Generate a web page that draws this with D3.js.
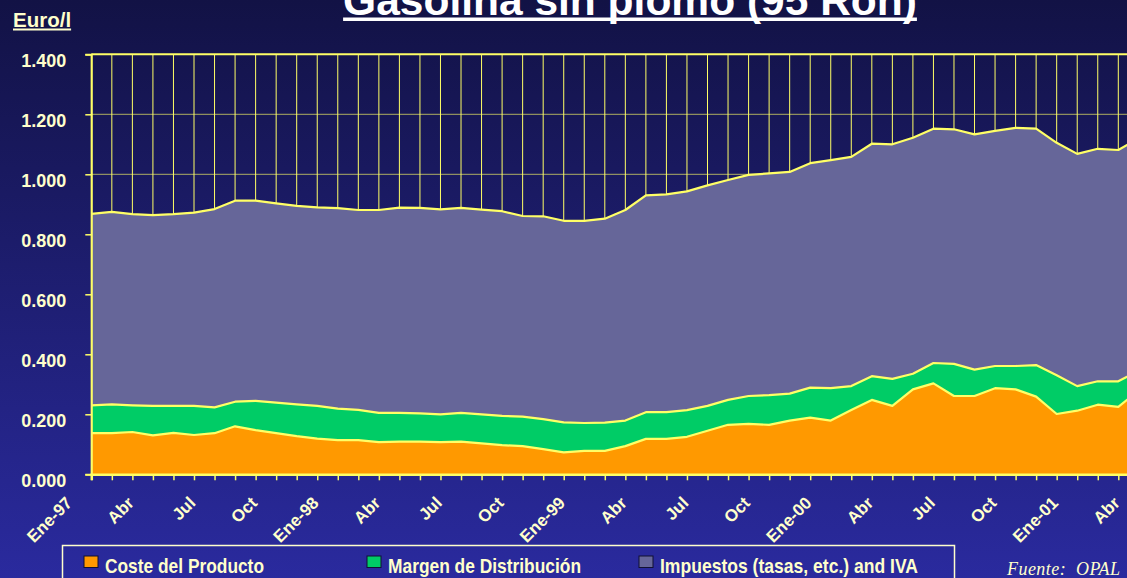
<!DOCTYPE html>
<html>
<head>
<meta charset="utf-8">
<script src="https://cdnjs.cloudflare.com/ajax/libs/d3/7.8.5/d3.min.js"></script>
<style>
  html, body { margin:0; padding:0; background:#1b1b6e; overflow:hidden; }
  svg { display:block; font-family:"Liberation Sans", Arial, sans-serif; }
</style>
</head>
<body>
<svg id="chart" width="1127" height="578"></svg>
<script>
// precios gasolina sin plomo 95, euro/litro, mensual Ene-97 .. Abr-01
var meses = ["Ene-97","Feb-97","Mar-97","Abr-97","May-97","Jun-97","Jul-97","Ago-97","Sep-97","Oct-97","Nov-97","Dic-97",
             "Ene-98","Feb-98","Mar-98","Abr-98","May-98","Jun-98","Jul-98","Ago-98","Sep-98","Oct-98","Nov-98","Dic-98",
             "Ene-99","Feb-99","Mar-99","Abr-99","May-99","Jun-99","Jul-99","Ago-99","Sep-99","Oct-99","Nov-99","Dic-99",
             "Ene-00","Feb-00","Mar-00","Abr-00","May-00","Jun-00","Jul-00","Ago-00","Sep-00","Oct-00","Nov-00","Dic-00",
             "Ene-01","Feb-01","Mar-01","Abr-01"];

var coste = [0.137,0.137,0.141,0.130,0.138,0.131,0.137,0.160,0.147,0.137,0.127,0.119,
             0.114,0.114,0.107,0.109,0.109,0.107,0.109,0.103,0.097,0.094,0.084,0.073,
             0.078,0.078,0.094,0.118,0.118,0.125,0.145,0.165,0.168,0.165,0.179,0.189,
             0.179,0.214,0.248,0.228,0.283,0.303,0.261,0.261,0.287,0.283,0.259,0.201,
             0.212,0.232,0.225,0.280];

var margen = [0.093,0.096,0.089,0.098,0.090,0.097,0.086,0.082,0.098,0.102,0.106,0.109,
              0.105,0.101,0.098,0.096,0.094,0.093,0.096,0.097,0.098,0.098,0.100,0.100,
              0.093,0.094,0.085,0.089,0.089,0.089,0.083,0.083,0.093,0.099,0.090,0.100,
              0.108,0.080,0.079,0.090,0.052,0.068,0.107,0.088,0.074,0.078,0.105,0.129,
              0.082,0.078,0.085,0.065];

var impuestos = [0.638,0.642,0.637,0.636,0.639,0.644,0.661,0.670,0.667,0.664,0.662,0.662,
                 0.668,0.666,0.676,0.684,0.685,0.683,0.683,0.682,0.682,0.669,0.676,0.672,
                 0.674,0.680,0.702,0.723,0.726,0.729,0.735,0.733,0.737,0.739,0.739,0.748,
                 0.760,0.764,0.775,0.782,0.787,0.781,0.782,0.784,0.784,0.794,0.788,0.775,
                 0.774,0.775,0.771,0.775];

var tickLabels = ["Ene-97","Abr","Jul","Oct","Ene-98","Abr","Jul","Oct","Ene-99","Abr","Jul","Oct",
                  "Ene-00","Abr","Jul","Oct","Ene-01","Abr"];
var yTicks = [0, 0.2, 0.4, 0.6, 0.8, 1.0, 1.2, 1.4];

var claves = ["coste", "margen", "impuestos"];
var nombres = ["Coste del Producto", "Margen de Distribución", "Impuestos (tasas, etc.) and IVA"];
var colores = ["#ff9900", "#00cc66", "#666699"];

var W = 1127, H = 578;
var izq = 91.3, abajo = 474.3, arriba = 54.3;
var paso = 20.54;   // px por mes
var amarillo = "#ffff66";
var crema = "#ffffcc";

var svg = d3.select("#chart");

// fondo degradado
var defs = svg.append("defs");
var grad = defs.append("linearGradient").attr("id", "fondo")
  .attr("x1", 0).attr("y1", 0).attr("x2", 0).attr("y2", 1);
grad.append("stop").attr("offset", "0%").attr("stop-color", "#121245");
grad.append("stop").attr("offset", "100%").attr("stop-color", "#2a2a9e");
svg.append("rect").attr("width", W).attr("height", H).attr("fill", "url(#fondo)");

var x = d3.scalePoint().domain(meses).range([izq, izq + paso * (meses.length - 1)]);
var y = d3.scaleLinear().domain([0, 1.4]).range([abajo, arriba]);

var tabla = meses.map(function(m, i) {
  return { mes: m, coste: coste[i], margen: margen[i], impuestos: impuestos[i] };
});
var capas = d3.stack().keys(claves)(tabla);

// rejilla
var grid = svg.append("g").attr("stroke", amarillo).attr("stroke-width", 1);
grid.selectAll("line.v").data(meses).enter().append("line")
  .attr("class", "v")
  .attr("x1", function(d) { return x(d); }).attr("x2", function(d) { return x(d); })
  .attr("y1", y(1.4)).attr("y2", abajo);
grid.selectAll("line.h").data(yTicks.slice(1)).enter().append("line")
  .attr("class", "h")
  .attr("x1", izq).attr("x2", W + 20)
  .attr("y1", function(d) { return y(d); }).attr("y2", function(d) { return y(d); })
  .attr("stroke-opacity", function(d) { return d === 1.4 ? 1 : 0.65; })
  .attr("stroke-width", function(d) { return d === 1.4 ? 2 : 1; });

// areas apiladas
var area = d3.area()
  .x(function(d) { return x(d.data.mes); })
  .y0(function(d) { return y(d[0]); })
  .y1(function(d) { return y(d[1]); });
var linea = d3.line()
  .x(function(d) { return x(d.data.mes); })
  .y(function(d) { return y(d[1]); });

svg.selectAll("path.area").data(capas).enter().append("path")
  .attr("class", "area")
  .attr("d", area)
  .attr("fill", function(d, i) { return colores[i]; });

svg.selectAll("path.borde").data(capas).enter().append("path")
  .attr("class", "borde")
  .attr("d", linea)
  .attr("fill", "none")
  .attr("stroke", amarillo)
  .attr("stroke-width", 2.2)
  .attr("stroke-linejoin", "round");

// ejes
var axY = svg.append("g").attr("transform", "translate(" + izq + ",0)")
  .call(d3.axisLeft(y).tickValues(yTicks).tickSize(6).tickFormat(d3.format(".3f")));
axY.select(".domain").attr("stroke", amarillo).attr("stroke-width", 2);
axY.selectAll(".tick line").attr("stroke", amarillo).attr("stroke-width", 1.5);
axY.selectAll(".tick text")
  .attr("x", -25).attr("dy", 12).attr("y", 0)
  .attr("fill", crema).attr("font-size", 18).attr("font-weight", "bold")
  .attr("font-family", "Liberation Sans, Arial, sans-serif");

var axX = svg.append("g").attr("transform", "translate(0," + abajo + ")")
  .call(d3.axisBottom(x).tickSize(6).tickFormat(""));
axX.select(".domain").attr("stroke", amarillo).attr("stroke-width", 2.5);
axX.selectAll(".tick line").attr("stroke", amarillo).attr("stroke-width", 1.5);

svg.append("g").selectAll("text").data(tickLabels).enter().append("text")
  .attr("transform", function(d, i) {
    return "translate(" + (x(meses[i * 3]) - 18) + "," + 504 + ") rotate(-45)";
  })
  .attr("text-anchor", "end")
  .attr("fill", crema).attr("font-size", 17).attr("font-weight", "bold")
  .text(function(d) { return d; });

// titulo
var titulo = svg.append("text")
  .attr("x", 630).attr("y", 15)
  .attr("text-anchor", "middle")
  .attr("fill", "#ffffff").attr("font-size", 42.5).attr("font-weight", "bold")
  .text("Gasolina sin plomo (95 Ron)");
var tb = titulo.node().getBBox();
svg.append("rect").attr("x", tb.x).attr("y", 17.5).attr("width", tb.width).attr("height", 3.5).attr("fill", "#ffffff");

var unidad = svg.append("text")
  .attr("x", 13).attr("y", 27)
  .attr("fill", crema).attr("font-size", 20.5).attr("font-weight", "bold")
  .text("Euro/l");
var ub = unidad.node().getBBox();
svg.append("rect").attr("x", ub.x).attr("y", 28.5).attr("width", ub.width).attr("height", 2).attr("fill", crema);

// leyenda
var leyX = [84, 367, 639];
var leyW = [159, 193, 258];
svg.append("rect").attr("x", 62.5).attr("y", 545.5).attr("width", 892).attr("height", 60)
  .attr("fill", "none").attr("stroke", crema).attr("stroke-width", 1.5);
var ley = svg.append("g").selectAll("g").data(nombres).enter().append("g")
  .attr("transform", function(d, i) { return "translate(" + leyX[i] + ",0)"; });
ley.append("rect").attr("x", 0).attr("y", 556).attr("width", 14).attr("height", 11.5)
  .attr("fill", function(d, i) { return colores[i]; })
  .attr("stroke", "#111133").attr("stroke-width", 1);
ley.append("text").attr("x", 21).attr("y", 573)
  .attr("fill", crema).attr("font-size", 21).attr("font-weight", "bold")
  .attr("textLength", function(d, i) { return leyW[i]; })
  .attr("lengthAdjust", "spacingAndGlyphs")
  .text(function(d) { return d; });

svg.append("text")
  .attr("x", 1007).attr("y", 575)
  .attr("fill", crema).attr("font-size", 18).attr("font-style", "italic")
  .attr("font-family", "Liberation Serif, Times New Roman, serif")
  .style("white-space", "pre")
  .attr("textLength", 113).attr("lengthAdjust", "spacing")
  .text("Fuente:  OPAL");
</script>
</body>
</html>
